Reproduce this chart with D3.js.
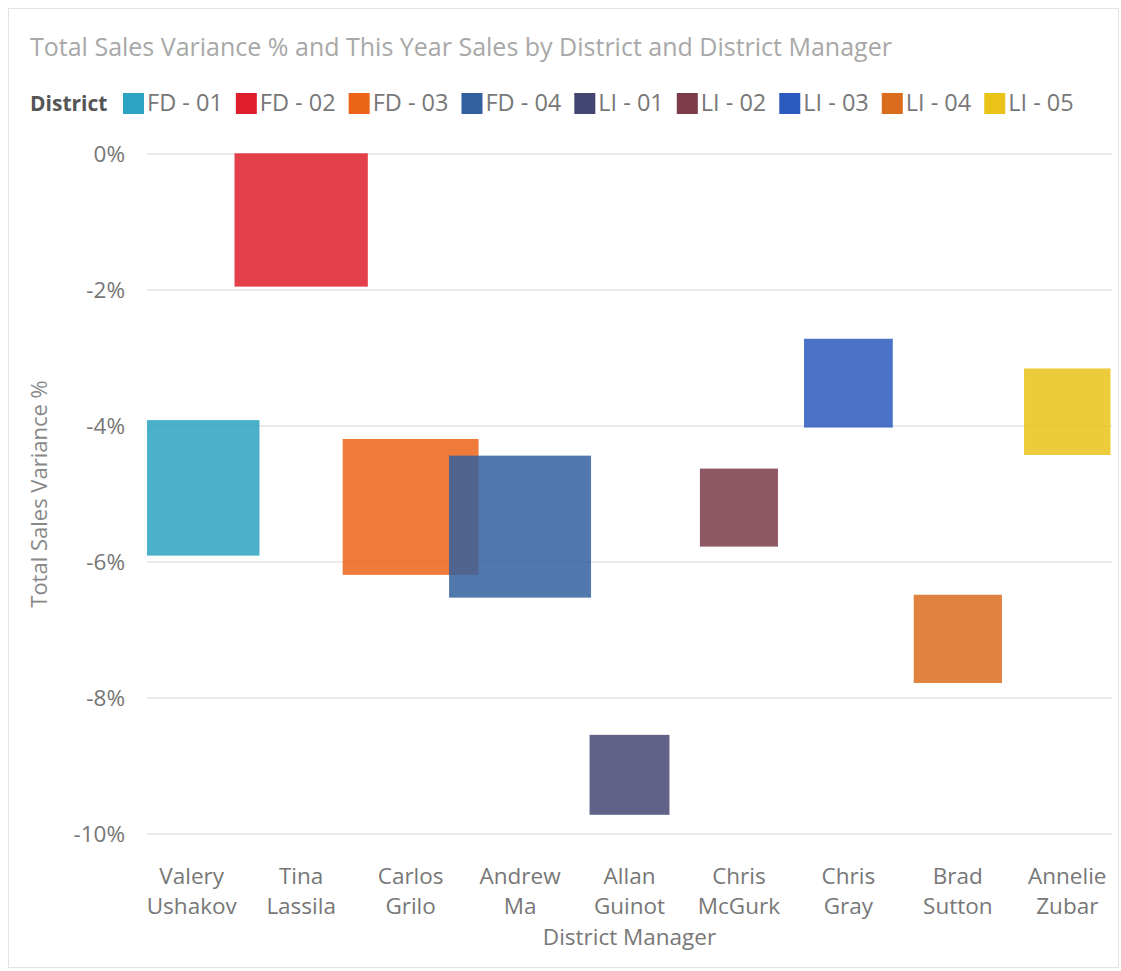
<!DOCTYPE html>
<html><head><meta charset="utf-8">
<script src="https://cdn.jsdelivr.net/npm/d3@7"></script>
<style>
html,body{margin:0;padding:0;background:#fff;}
text{font-family:"Segoe UI","Open Sans",sans-serif;}
</style></head>
<body>
<svg id="chart" width="1121" height="971"></svg>
<script>
// ---- data ----
const managers = ["Valery Ushakov","Tina Lassila","Carlos Grilo","Andrew Ma","Allan Guinot","Chris McGurk","Chris Gray","Brad Sutton","Annelie Zubar"];
const districts = ["FD - 01","FD - 02","FD - 03","FD - 04","LI - 01","LI - 02","LI - 03","LI - 04","LI - 05"];
const variancePct = [-4.91,-0.97,-5.19,-5.48,-9.13,-5.20,-3.37,-7.13,-3.79];
const thisYearSalesM = [18.4,17.8,18.5,20.2,6.4,6.1,7.9,7.8,7.5];
const districtColors = ["#2CA3C1","#DE1F2B","#EB6417","#32609F","#444672","#7B3B49","#2A5ABE","#DA6C1E","#E9C317"];
const yTicks = [0,-2,-4,-6,-8,-10];

const svg = d3.select("#chart");
const plot = {left:147, right:1112, top:154, bottom:834};

svg.append("rect").attr("x",8.5).attr("y",8.5).attr("width",1110).attr("height",959)
  .attr("fill","#fff").attr("stroke","#e3e3e3").attr("stroke-width",1);

// title
svg.append("text").attr("x",30).attr("y",56).attr("font-size",25).attr("fill","#a8a8a8")
  .text("Total Sales Variance % and This Year Sales by District and District Manager");

// legend
const lg = svg.append("g");
let lx = 30; const ly = 103;
lg.append("text").attr("x",lx).attr("y",ly+8).attr("font-size",21).attr("font-weight","bold").attr("fill","#555").text("District");
lx = 123;
districts.forEach((d,i)=>{
  lg.append("rect").attr("x",lx).attr("y",ly-10).attr("width",21).attr("height",21).attr("fill",districtColors[i]);
  const t = lg.append("text").attr("x",lx+24).attr("y",ly+8).attr("font-size",23.5).attr("fill","#777").text(d);
  lx += 24 + t.node().getComputedTextLength() + 13;
});

// scales
const x = d3.scaleBand().domain(managers).range([137,1122]).padding(0);
const y = d3.scaleLinear().domain([-10,0]).range([plot.bottom, plot.top]);
const side = d3.scaleSqrt().domain([0, d3.max(thisYearSalesM)]).range([0,142]);

// gridlines
svg.append("g").selectAll("line").data(yTicks).join("line")
  .attr("x1",plot.left).attr("x2",plot.right)
  .attr("y1",d=>y(d)).attr("y2",d=>y(d))
  .attr("stroke","#ebebeb").attr("stroke-width",2);

// y axis
const yAxis = d3.axisLeft(y).tickValues(yTicks).tickFormat(d=>d+"%").tickSize(0).tickPadding(0);
const ya = svg.append("g").attr("transform","translate(125,0)").call(yAxis);
ya.select(".domain").remove();
ya.selectAll("text").attr("font-size",22.5).attr("fill","#777").attr("font-family",'"Segoe UI","Open Sans",sans-serif');

// y title
svg.append("text").attr("transform",`translate(47,${(plot.top+plot.bottom)/2}) rotate(-90)`)
  .attr("text-anchor","middle").attr("font-size",22).attr("fill","#888").text("Total Sales Variance %");

// clip
svg.append("clipPath").attr("id","pc").append("rect")
  .attr("x",plot.left).attr("y",plot.top-2).attr("width",plot.right-plot.left).attr("height",plot.bottom-plot.top+40);

// markers
const pts = managers.map((m,i)=>({m, d:districts[i], v:variancePct[i], s:thisYearSalesM[i], c:districtColors[i]}));
svg.append("g").attr("clip-path","url(#pc)").selectAll("rect").data(pts).join("rect")
  .attr("x",d=>x(d.m)+x.bandwidth()/2 - side(d.s)/2)
  .attr("y",d=>y(d.v) - side(d.s)/2)
  .attr("width",d=>side(d.s)).attr("height",d=>side(d.s))
  .attr("fill",d=>d.c).attr("fill-opacity",0.85);

// x axis labels
const xa = svg.append("g");
managers.forEach(m=>{
  const parts = m.split(" ");
  const t = xa.append("text").attr("text-anchor","middle").attr("font-size",22.5).attr("fill","#777");
  parts.forEach((p,j)=>{
    t.append("tspan").attr("x",x(m)+x.bandwidth()/2).attr("y",884+j*30).text(p);
  });
});
svg.append("text").attr("x",(plot.left+plot.right)/2).attr("y",945).attr("text-anchor","middle")
  .attr("font-size",22.5).attr("fill","#777").text("District Manager");
</script>
</body></html>
